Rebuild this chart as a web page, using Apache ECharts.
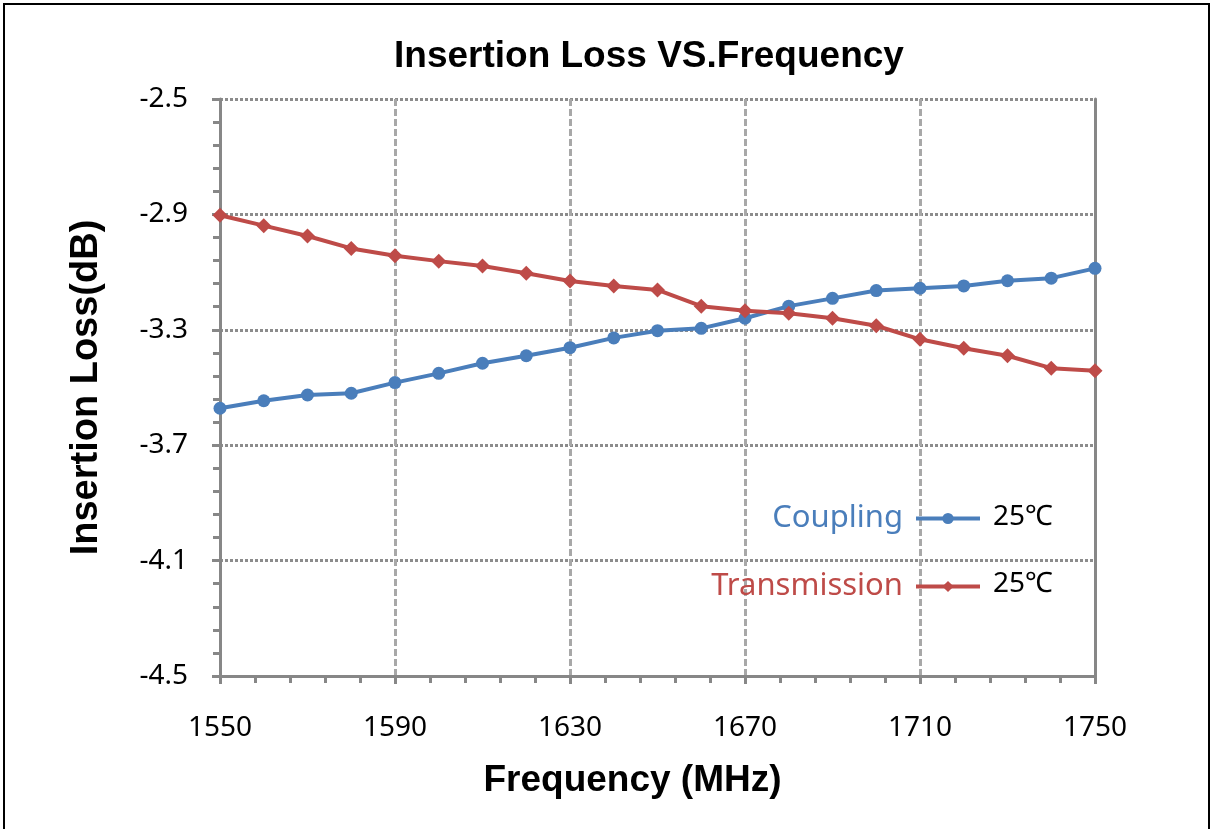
<!DOCTYPE html>
<html>
<head>
<meta charset="utf-8">
<title>Insertion Loss VS.Frequency</title>
<script src="https://cdn.jsdelivr.net/npm/echarts@6/dist/echarts.min.js"></script>
<style>
  html, body { margin: 0; padding: 0; background: #fff; overflow: hidden; }
  #frame { position: absolute; left: 3px; top: 3px; width: 1203px; height: 900px; border: 2px solid #000; }
  #main { position: absolute; left: 0; top: 0; width: 1213px; height: 829px; }
</style>
</head>
<body>
<div id="frame"></div>
<div id="main"></div>
<script>
  // 频率 (MHz)
  var freqs = [1550, 1560, 1570, 1580, 1590, 1600, 1610, 1620, 1630, 1640, 1650,
               1660, 1670, 1680, 1690, 1700, 1710, 1720, 1730, 1740, 1750]
  // Coupling 25℃
  var coupling = [-3.572, -3.546, -3.526, -3.520, -3.483, -3.451, -3.416, -3.390, -3.362, -3.328, -3.303,
                  -3.295, -3.260, -3.218, -3.191, -3.164, -3.156, -3.148, -3.130, -3.121, -3.087]
  // Transmission 25℃
  var transmission = [-2.903, -2.939, -2.975, -3.018, -3.043, -3.062, -3.079, -3.104, -3.131, -3.148, -3.162,
                      -3.218, -3.234, -3.243, -3.260, -3.286, -3.333, -3.364, -3.390, -3.433, -3.442]

  // 刻度
  var xTicks = [1550, 1590, 1630, 1670, 1710, 1750]
  var xMinorTicks = [1550, 1558, 1566, 1574, 1582, 1590, 1598, 1606, 1614, 1622, 1630, 1638, 1646, 1654, 1662,
                     1670, 1678, 1686, 1694, 1702, 1710, 1718, 1726, 1734, 1742, 1750]
  var yTicks = [-4.5, -4.1, -3.7, -3.3, -2.9, -2.5]
  var yMinorTicks = [-4.5, -4.42, -4.34, -4.26, -4.18, -4.1, -4.02, -3.94, -3.86, -3.78, -3.7, -3.62, -3.54,
                     -3.46, -3.38, -3.3, -3.22, -3.14, -3.06, -2.98, -2.9, -2.82, -2.74, -2.66, -2.58, -2.5]

  var axisGray = '#878787'
  var blue = '#4a7ebb'
  var red = '#be4b48'
  var labelFont = 'Noto Sans'

  function pairs(xs, ys) {
    return xs.map(function (x, i) { return [x, ys[i]] })
  }

  var myChart = echarts.init(document.getElementById('main'))
  myChart.setOption({
    animation: false,
    title: {
      text: 'Insertion Loss VS.Frequency',
      left: 389,
      top: 33,
      textStyle: { fontFamily: 'Liberation Sans', fontWeight: 'bold', fontSize: 37, color: '#000' }
    },
    grid: { left: 220, right: 118, top: 99, bottom: 153 },
    legend: {
      orient: 'vertical',
      right: 226,
      top: 498,
      align: 'right',
      itemWidth: 64,
      itemHeight: 14,
      itemGap: 37,
      lineStyle: { width: 4 },
      textStyle: { fontSize: 31, fontFamily: labelFont, lineHeight: 30, padding: [0, 8, 0, 0] },
      data: [
        { name: 'Coupling', textStyle: { color: blue } },
        { name: 'Transmission', textStyle: { color: red } }
      ]
    },
    graphic: [
      { type: 'text', left: 993, top: 503, style: { text: '25℃', fontSize: 28, fontFamily: 'Noto Sans, Noto Sans CJK SC', fill: '#000' } },
      { type: 'text', left: 993, top: 570, style: { text: '25℃', fontSize: 28, fontFamily: 'Noto Sans, Noto Sans CJK SC', fill: '#000' } }
    ],
    xAxis: [{
      type: 'value',
      min: 1550,
      max: 1750,
      name: 'Frequency (MHz)',
      nameLocation: 'middle',
      nameGap: 86,
      nameTextStyle: { fontFamily: 'Liberation Sans', fontWeight: 'bold', fontSize: 37, color: '#000', padding: [0, 50, 0, 0] },
      axisLine: { lineStyle: { color: axisGray, width: 3 } },
      axisTick: { customValues: xTicks, length: 8, lineStyle: { color: axisGray, width: 3 } },
      axisLabel: { customValues: xTicks, margin: 38, fontSize: 28, fontFamily: labelFont, color: '#000',
                   formatter: function (v) { return String(v) } },
      splitLine: { show: true, lineStyle: { color: '#a8a8a8', width: 3, type: [7, 3] } }
    }, {
      type: 'value',
      min: 1550,
      max: 1750,
      position: 'bottom',
      axisLine: { show: false },
      axisTick: { customValues: xMinorTicks, length: 7, lineStyle: { color: axisGray, width: 3 } },
      axisLabel: { show: false },
      splitLine: { show: false }
    }],
    yAxis: [{
      type: 'value',
      min: -4.5,
      max: -2.5,
      name: 'Insertion Loss(dB)',
      nameLocation: 'middle',
      nameGap: 114,
      nameTextStyle: { fontFamily: 'Liberation Sans', fontWeight: 'bold', fontSize: 38, color: '#000' },
      axisLine: { show: true, lineStyle: { color: axisGray, width: 3 } },
      axisTick: { show: true, customValues: yTicks, length: 8, lineStyle: { color: axisGray, width: 3 } },
      axisLabel: { customValues: yTicks, margin: 32, fontSize: 28, fontFamily: labelFont, color: '#000',
                   formatter: function (v) { return v.toFixed(1) } },
      splitLine: { show: true, lineStyle: { color: '#8c8c8c', width: 3, type: [3, 2] } }
    }, {
      type: 'value',
      min: -4.5,
      max: -2.5,
      position: 'left',
      axisLine: { show: false },
      axisTick: { show: true, customValues: yMinorTicks, length: 7, lineStyle: { color: axisGray, width: 3 } },
      axisLabel: { show: false },
      splitLine: { show: false }
    }, {
      type: 'value',
      min: -4.5,
      max: -2.5,
      position: 'right',
      axisLine: { show: true, lineStyle: { color: axisGray, width: 3 } },
      axisTick: { show: false },
      axisLabel: { show: false },
      splitLine: { show: false }
    }],
    series: [{
      name: 'Coupling',
      type: 'line',
      data: pairs(freqs, coupling),
      symbol: 'circle',
      symbolSize: 13,
      itemStyle: { color: blue },
      lineStyle: { color: blue, width: 4 }
    }, {
      name: 'Transmission',
      type: 'line',
      data: pairs(freqs, transmission),
      symbol: 'diamond',
      symbolSize: 15,
      itemStyle: { color: red },
      lineStyle: { color: red, width: 4 }
    }]
  })
</script>
</body>
</html>
